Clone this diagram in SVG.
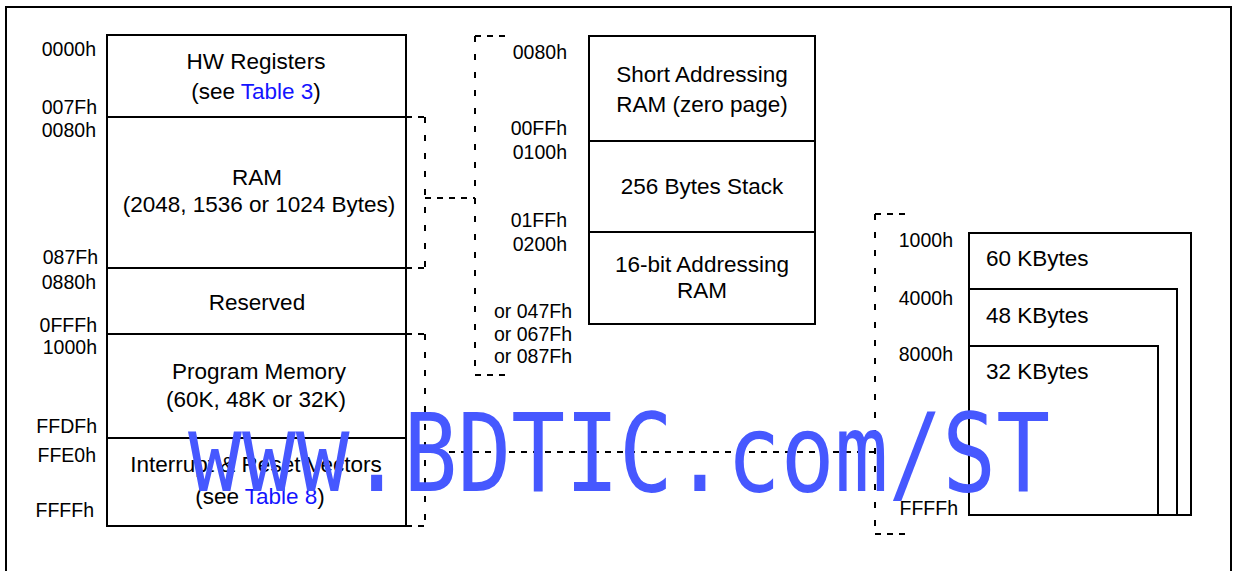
<svg xmlns="http://www.w3.org/2000/svg" width="1235" height="571" viewBox="0 0 1235 571">
<style>
.box{fill:#fff;stroke:#000;stroke-width:2}
.ln{fill:none;stroke:#000;stroke-width:2}
.dv{fill:none;stroke:#000;stroke-width:2;stroke-dasharray:6 12}
.dh{fill:none;stroke:#000;stroke-width:2;stroke-dasharray:6 6}
.t{font-family:"Liberation Sans",Arial,sans-serif;font-size:22.5px;fill:#000;text-anchor:middle}
.a{font-family:"Liberation Sans",Arial,sans-serif;font-size:19.5px;fill:#000;text-anchor:end}
.tl{font-family:"Liberation Sans",Arial,sans-serif;font-size:22.5px;fill:#000}
.lk{fill:#1414ff}
.wm{font-family:"DejaVu Sans Mono",monospace;font-size:108px;fill:#4658ff}
</style>
<rect width="1235" height="571" fill="#fff"/>
<path class="ln" d="M6,571 V7 H1231 V571"/>

<g id="connectors">
<path class="dh" d="M406,117 H425 M406,268 H425 M425,198 H475 M475,36 H506 M475,375 H506 M406,334 H425 M406,526 H425 M425,452 H875 M875,214 H906 M875,534 H906"/>
<path class="dv" d="M425,117 V268 M475,36 V375 M425,334 V526 M875,214 V534"/>
</g>

<g id="hw-registers">
<rect class="box" x="107" y="35" width="299" height="82"/>
<text class="t" x="256" y="69">HW Registers</text>
<text class="t" x="256" y="99">(see <tspan class="lk">Table 3</tspan>)</text>
<text class="a" x="96" y="56">0000h</text>
<text class="a" x="97" y="114">007Fh</text>
</g>
<g id="ram">
<rect class="box" x="107" y="117" width="299" height="151"/>
<text class="t" x="257" y="185">RAM</text>
<text class="t" x="259" y="212">(2048, 1536 or 1024 Bytes)</text>
<text class="a" x="96" y="137">0080h</text>
<text class="a" x="98" y="264">087Fh</text>
</g>
<g id="reserved">
<rect class="box" x="107" y="268" width="299" height="66"/>
<text class="t" x="257" y="310">Reserved</text>
<text class="a" x="96" y="289">0880h</text>
<text class="a" x="97" y="332">0FFFh</text>
</g>
<g id="program-memory">
<rect class="box" x="107" y="334" width="299" height="104"/>
<text class="t" x="259" y="379">Program Memory</text>
<text class="t" x="256" y="407">(60K, 48K or 32K)</text>
<text class="a" x="97" y="354">1000h</text>
<text class="a" x="97" y="433">FFDFh</text>
</g>
<g id="vectors">
<rect class="box" x="107" y="438" width="299" height="88"/>
<text class="t" x="256" y="472">Interrupt &amp; Reset Vectors</text>
<text class="t" x="260" y="504">(see <tspan class="lk">Table 8</tspan>)</text>
<text class="a" x="96" y="462">FFE0h</text>
<text class="a" x="94" y="517">FFFFh</text>
</g>

<g id="short-ram">
<rect class="box" x="589" y="36" width="226" height="105"/>
<text class="t" x="702" y="82">Short Addressing</text>
<text class="t" x="702" y="112">RAM (zero page)</text>
<text class="a" x="567" y="59">0080h</text>
<text class="a" x="567" y="135">00FFh</text>
</g>
<g id="stack">
<rect class="box" x="589" y="141" width="226" height="91"/>
<text class="t" x="702" y="194">256 Bytes Stack</text>
<text class="a" x="567" y="159">0100h</text>
<text class="a" x="567" y="227">01FFh</text>
</g>
<g id="ram16">
<rect class="box" x="589" y="232" width="226" height="92"/>
<text class="t" x="702" y="272">16-bit Addressing</text>
<text class="t" x="702" y="298">RAM</text>
<text class="a" x="567" y="251">0200h</text>
<text class="a" x="572" y="318">or 047Fh</text>
<text class="a" x="572" y="341">or 067Fh</text>
<text class="a" x="572" y="363">or 087Fh</text>
</g>

<g id="kb60">
<rect class="box" x="969" y="233" width="222" height="282"/>
<text class="tl" x="986" y="266">60 KBytes</text>
<text class="a" x="953" y="247">1000h</text>
</g>
<g id="kb48">
<rect class="box" x="969" y="289" width="208" height="226"/>
<text class="tl" x="986" y="323">48 KBytes</text>
<text class="a" x="953" y="305">4000h</text>
</g>
<g id="kb32">
<rect class="box" x="969" y="346" width="189" height="169"/>
<text class="tl" x="986" y="379">32 KBytes</text>
<text class="a" x="953" y="361">8000h</text>
<text class="a" x="958" y="515">FFFFh</text>
</g>

<text class="wm" x="188" y="491" textLength="862" lengthAdjust="spacingAndGlyphs">www.BDTIC.com/ST</text>
</svg>
